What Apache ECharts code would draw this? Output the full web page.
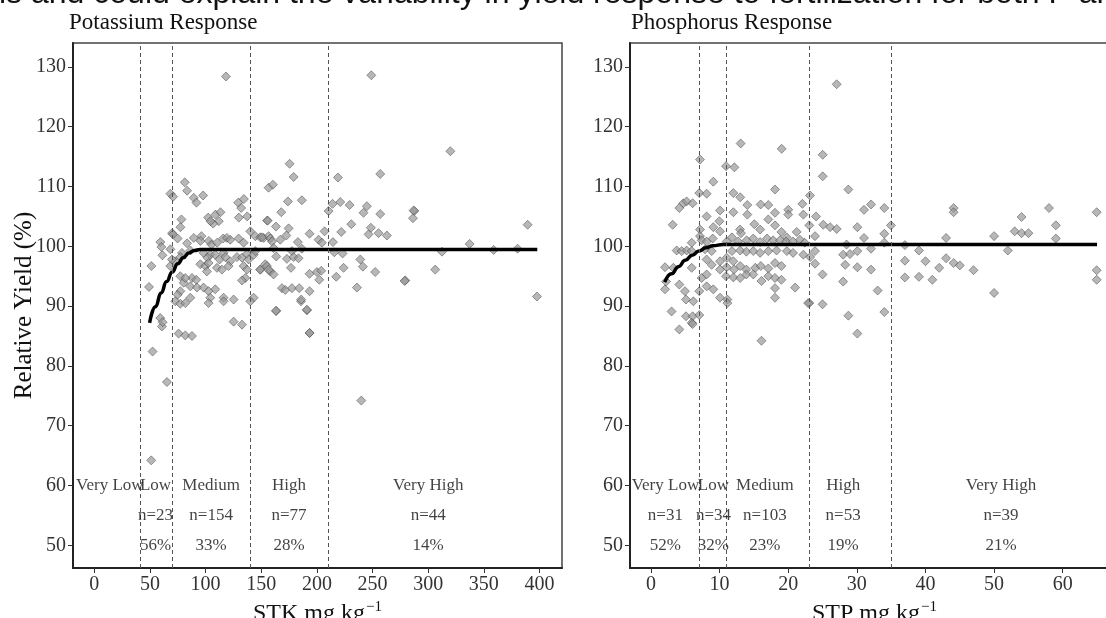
<!DOCTYPE html>
<html>
<head>
    <meta charset="utf-8">
    <title>Potassium / Phosphorus response</title>
    <script src="https://cdn.jsdelivr.net/npm/echarts@6/dist/echarts.min.js"></script>
    <style>
        html, body { margin: 0; padding: 0; background: #fff; }
    </style>
</head>
<body>
    <div id="main" style="width: 1106px;height:618px;"></div>

    <script type="text/javascript">
        // relative yield vs soil test K (STK)
        var kPoints = [
            [81.3,110.7],[83.4,109.3],[68.4,108.8],[70.8,108.3],[89.4,108.1],[97.8,108.5],[91.8,107.3],
            [129.3,107.3],[134.4,107.9],[132.0,106.4],[129.9,104.8],[137.4,105.0],[155.4,104.3],
            [102.3,104.8],[108.9,105.3],[113.4,105.7],[111.9,104.2],[106.8,103.8],[104.4,104.2],[78.3,104.5],[77.4,103.2],
            [69.9,102.2],[70.8,102.0],[59.4,100.7],[60.3,99.9],[61.2,98.5],[51.3,96.7],[49.2,93.2],
            [68.4,99.5],[74.9,101.3],[83.4,100.5],[86.4,99.3],[78.8,98.9],[77.4,98.2],[72.8,97.5],[68.3,96.7],[69.8,97.8],
            [89.4,101.4],[96.3,101.7],[95.4,100.9],[102.9,100.9],[105.3,100.3],[110.4,100.6],[115.8,101.3],[119.2,101.4],
            [122.2,101.1],[129.7,101.3],[134.2,100.6],[140.2,102.5],[144.7,101.7],[149.1,101.5],[152.2,101.4],[156.6,101.7],
            [98.2,98.9],[104.2,98.6],[101.8,98.1],[108.7,98.6],[116.2,98.9],[112.6,97.8],[117.7,98.2],[122.2,97.5],
            [128.2,98.2],[132.7,98.1],[137.2,98.7],[143.2,98.6],[138.7,97.8],[144.7,99.2],
            [95.3,97.0],[99.7,96.7],[101.2,95.8],[102.7,97.2],[110.2,96.4],[114.7,96.1],[120.7,96.7],[134.2,96.7],
            [137.2,96.1],[135.7,94.7],[132.7,94.3],[149.2,96.1],[153.6,97.0],[158.1,95.8],
            [87.8,94.7],[91.6,94.4],[80.3,93.9],[77.3,95.0],[81.8,94.7],[86.3,93.3],[92.3,93.1],[98.2,93.1],[102.7,92.5],
            [108.7,92.8],[104.2,91.4],[77.3,92.5],[74.9,91.9],[72.8,90.8],[77.3,90.4],[81.8,90.5],[86.3,91.4],[116.2,91.4],
            [125.2,91.1],[143.2,91.4],
            [59.3,88.0],[60.8,86.6],[125.2,87.4],[132.7,86.9],[75.8,85.4],[81.8,85.1],[87.8,85.0],
            [61.4,87.3],[52.4,82.4],[65.3,77.3],[51.2,64.2],[163.5,89.2],[102.7,90.5],[116.2,90.8],[140.2,90.8],
            [185.7,90.8],[191.1,89.3],[193.5,85.5],[239.9,74.2],[118.3,128.4],
            [175.5,113.8],[179.1,111.6],[156.6,109.8],[160.5,110.3],[218.9,111.5],[256.9,112.1],[174.0,107.5],[186.5,107.7],
            [168.0,105.7],[155.7,104.3],[163.2,103.3],[174.6,103.0],[167.1,101.1],[172.5,101.8],[150.6,101.5],[158.1,101.3],
            [159.6,100.8],[182.9,100.7],[193.4,102.1],[201.5,101.1],[204.5,100.6],[206.9,102.5],[210.5,105.9],[214.1,107.1],
            [221.0,107.4],[229.4,106.9],[241.9,105.6],[244.9,106.7],[256.9,105.4],[287.5,105.9],[286.3,104.7],[230.9,103.7],
            [248.5,103.1],[221.9,102.4],[246.4,102.0],[255.4,102.2],[262.9,101.8],[214.4,100.7],[161.1,99.7],[163.5,98.3],
            [177.6,99.2],[173.1,97.9],[179.1,98.2],[183.5,98.0],[186.5,99.6],[215.6,99.0],[223.1,98.8],[239.0,97.8],
            [241.3,96.6],[149.1,96.1],[155.1,96.7],[156.6,96.1],[161.1,95.3],[176.7,96.4],[193.4,95.4],[200.0,95.7],
            [203.9,95.9],[202.1,94.4],[224.0,96.4],[217.4,94.9],[252.4,95.7],[279.4,94.3],[306.3,96.1],[168.6,93.0],
            [171.6,92.7],[177.6,93.0],[184.1,93.0],[193.4,92.5],[236.0,93.1],[185.9,91.1],[163.2,89.2],[191.0,89.4],[193.4,85.5],
            [248.9,128.6],[319.9,115.9],[286.9,106.0],[337.2,100.4],[358.8,99.4],[380.3,99.6],[389.3,103.6],[397.7,91.6],
            [312.4,99.1],[278.8,94.2]
        ];

        // relative yield vs soil test P (STP)
        var pPoints = [
            [7.14,114.5],[10.93,113.4],[12.15,113.2],[9.08,110.8],[18.07,109.5],[25.02,115.3],[25.02,111.7],[7.04,108.9],
            [8.11,108.8],[12.0,108.9],[13.0,108.2],[4.71,107.2],[5.2,107.5],[6.07,107.2],[4.13,106.4],[10.06,106.0],
            [12.0,105.7],[14.04,106.9],[14.04,105.3],[15.98,107.0],[17.1,106.9],[18.07,105.6],[20.0,106.1],[20.0,105.3],
            [22.06,107.1],[23.17,108.5],[22.2,105.3],[24.05,105.0],[25.1,103.6],[26.1,103.2],[3.16,103.6],[8.11,105.0],
            [7.14,102.8],[7.14,101.7],[9.96,104.2],[10.06,102.5],[9.08,103.2],[12.97,102.8],[13.12,102.2],[15.06,103.7],
            [15.9,102.8],[17.1,104.5],[18.07,103.5],[19.0,102.4],[19.77,101.5],[21.23,102.4],[23.07,103.5],[23.9,101.7],
            [5.93,100.6],[7.38,101.0],[8.11,100.8],[8.99,101.3],[11.03,100.8],[11.8,101.5],[12.7,100.8],[13.94,101.0],
            [14.9,101.3],[15.9,100.7],[16.9,101.3],[17.8,101.0],[18.8,101.0],[19.7,100.8],[20.7,100.8],[21.7,101.1],[22.4,100.6],
            [3.74,99.3],[4.47,99.2],[5.2,99.3],[5.93,99.2],[7.87,99.5],[8.84,99.2],[11.8,99.2],[13.0,99.3],[13.9,99.1],
            [14.9,99.2],[15.9,98.9],[17.1,99.2],[18.3,99.3],[19.8,99.2],[20.7,98.9],[22.2,98.6],[23.2,98.2],[23.9,99.2],
            [2.04,96.5],[3.26,96.4],[5.93,96.4],[8.11,97.8],[8.84,96.9],[10.06,97.5],[11.03,98.1],[12.0,97.5],[10.06,96.1],
            [11.03,96.5],[12.1,96.1],[13.0,96.7],[13.9,96.1],[15.2,96.4],[16.0,96.7],[17.1,96.3],[18.07,97.2],[19.0,96.7],
            [10.93,95.0],[12.0,94.8],[13.0,94.7],[13.9,95.3],[14.9,95.3],[16.1,94.2],[17.1,95.0],[18.07,94.7],[23.9,97.1],[25.0,95.3],
            [2.04,92.8],[4.13,93.6],[4.95,92.5],[7.04,92.5],[8.11,93.3],[9.08,92.8],[7.38,94.7],[8.11,95.3],[5.1,91.1],
            [6.17,90.8],[10.06,91.4],[11.13,91.1],[11.13,90.5],[18.07,93.0],[18.07,91.4],[19.0,94.4],[21.0,93.1],[23.07,90.5],[25.0,90.3],
            [3.0,89.1],[5.1,88.3],[6.07,88.3],[7.04,88.5],[5.93,87.2],[4.13,86.1],[16.1,84.2],
            [27.06,127.1],[19.04,116.3],[13.07,117.2],[28.76,109.5],[2.2,94.1],[6.07,87.0],[28.76,88.4],[22.9,90.5],[30.07,85.4],[34.0,89.0],
            [27.06,102.9],[28.5,100.3],[28.0,98.6],[28.3,96.9],[28.0,94.1],
            [31.04,106.1],[32.06,107.0],[34.0,106.4],[30.07,103.2],[31.04,101.4],[32.06,99.6],[34.0,102.1],[34.97,103.5],
            [34.0,100.6],[29.0,98.7],[30.07,99.2],[30.07,96.5],[32.06,96.1],[33.03,92.6],[37.0,100.2],[39.05,99.3],[37.0,97.6],
            [40.0,97.5],[39.05,94.9],[37.0,94.8],[41.0,94.4],[43.0,101.4],[43.0,98.0],[42.0,96.4],[44.1,97.2],[45.0,96.8],
            [44.1,106.4],[44.1,105.7],[47.0,96.0],[50.0,101.7],[50.0,92.2],[52.0,99.3],[53.0,102.5],[54.0,104.9],[54.0,102.2],
            [55.0,102.2],[58.0,106.4],[59.0,103.5],[59.0,101.3],[64.95,105.7],[64.95,96.0],[64.95,94.4]
        ];

        // fitted response curves
        var kFit = [[49.7,87.2],[55,89.9],[60,92.2],[65,94.1],[70,95.7],[75,97.1],[80,98.1],[85,98.9],[90,99.3],[95,99.45],[398,99.45]];
        var pFit = [[2,94.0],[3,95.4],[4,96.6],[5,97.65],[6,98.5],[7,99.2],[8,99.75],[9,100.1],[10.5,100.3],[65,100.3]];

        // class boundaries (dashed lines)
        var kBreaks = [41, 70, 140, 210];
        var pBreaks = [7, 11, 23, 35];

        // class annotations
        var classNames = ['Very Low', 'Low', 'Medium', 'High', 'Very High'];
        var kClassX = [14, 55, 105, 175, 300];
        var kCounts = ['', 'n=23', 'n=154', 'n=77', 'n=44'];
        var kShares = ['', '56%', '33%', '28%', '14%'];
        var pClassX = [2.1, 9.1, 16.6, 28, 51];
        var pCounts = ['n=31', 'n=34', 'n=103', 'n=53', 'n=39'];
        var pShares = ['52%', '32%', '23%', '19%', '21%'];
        var rowY = [60, 55, 50];

        // tick labels
        var yTicks = [50, 60, 70, 80, 90, 100, 110, 120, 130];
        var kTicks = [0, 50, 100, 150, 200, 250, 300, 350, 400];
        var pTicks = [0, 10, 20, 30, 40, 50, 60];

        var serif = '"Liberation Serif", "Times New Roman", serif';
        var dom = document.getElementById('main');
        var myChart = echarts.init(dom, null, { renderer: 'canvas' });

        function annotationData(xs, counts, shares) {
            var rows = [classNames, counts, shares];
            var out = [];
            for (var r = 0; r < rows.length; r++) {
                for (var i = 0; i < xs.length; i++) {
                    if (rows[r][i]) out.push([xs[i], rowY[r], rows[r][i]]);
                }
            }
            return out;
        }

        function xAxisOf(gridIndex, min, max, ticks, name) {
            return {
                type: 'value', gridIndex: gridIndex, min: min, max: max,
                splitLine: { show: false },
                axisLine: { show: true, onZero: false, lineStyle: { color: '#222', width: 2 } },
                axisTick: { show: true, length: 5, customValues: ticks, lineStyle: { color: '#333', width: 1 } },
                axisLabel: { customValues: ticks, margin: 7, fontFamily: serif, fontSize: 20, color: '#333' },
                name: name, nameLocation: 'middle', nameGap: 26,
                nameTextStyle: {
                    fontFamily: serif, fontSize: 24, color: '#111',
                    rich: { sup: { fontFamily: serif, fontSize: 15, color: '#111', verticalAlign: 'top', padding: [0, 0, 12, 1] } }
                }
            };
        }

        function yAxisOf(gridIndex, name) {
            return {
                type: 'value', gridIndex: gridIndex, min: 46.2, max: 134,
                splitLine: { show: false },
                axisLine: { show: true, onZero: false, lineStyle: { color: '#222', width: 2 } },
                axisTick: { show: true, length: 5, customValues: yTicks, lineStyle: { color: '#333', width: 1 } },
                axisLabel: { customValues: yTicks, margin: 7, fontFamily: serif, fontSize: 20, color: '#333' },
                name: name, nameLocation: 'middle', nameGap: 36, nameRotate: 90, nameMoveOverlap: false,
                nameTextStyle: { fontFamily: serif, fontSize: 25, color: '#111' }
            };
        }

        function pointsSeries(idx, data, breaks) {
            return {
                type: 'scatter', xAxisIndex: idx, yAxisIndex: idx, data: data,
                symbol: 'diamond', symbolSize: 9,
                itemStyle: { color: 'rgba(150,150,150,0.85)', borderColor: 'rgba(60,60,60,0.85)', borderWidth: 0.7 },
                markLine: {
                    silent: true, symbol: 'none', animation: false,
                    label: { show: false },
                    lineStyle: { color: '#555', type: [4, 3], width: 1 },
                    data: breaks.map(function (v) { return { xAxis: v }; })
                },
                z: 2
            };
        }

        function fitSeries(idx, data) {
            return {
                type: 'line', xAxisIndex: idx, yAxisIndex: idx, data: data,
                showSymbol: false, symbol: 'none', smooth: true, smoothMonotone: 'x',
                lineStyle: { color: '#000', width: 3.5 }, z: 4
            };
        }

        function labelSeries(idx, data) {
            return {
                type: 'scatter', xAxisIndex: idx, yAxisIndex: idx, data: data,
                symbolSize: 1, itemStyle: { color: 'transparent' },
                label: {
                    show: true, position: 'inside', color: '#111',
                    fontFamily: serif, fontSize: 17,
                    formatter: function (p) { return p.data[2]; }
                },
                z: 5
            };
        }

        var option = {
            animation: false,
            backgroundColor: '#fff',
            title: [
                { text: 'Potassium Response', left: 64, top: 6,
                  textStyle: { fontFamily: serif, fontWeight: 'normal', fontSize: 23, color: '#111' } },
                { text: 'Phosphorus Response', left: 626, top: 6,
                  textStyle: { fontFamily: serif, fontWeight: 'normal', fontSize: 23, color: '#111' } }
            ],
            graphic: [{
                type: 'text', left: -1, top: -22, silent: true,
                style: {
                    text: 'ls and could explain the variability in yield response to fertilization for both P and K',
                    font: '32px "Liberation Sans", Arial, sans-serif', fill: '#111'
                }
            }],
            grid: [
                { left: 73, top: 43, width: 489, height: 525, show: true, borderColor: '#444', borderWidth: 1.5, outerBoundsMode: 'none' },
                { left: 630, top: 43, width: 489, height: 525, show: true, borderColor: '#444', borderWidth: 1.5, outerBoundsMode: 'none' }
            ],
            xAxis: [
                xAxisOf(0, -19.1, 420.2, kTicks, 'STK mg kg{sup|−1}'),
                xAxisOf(1, -3.06, 68.2, pTicks, 'STP mg kg{sup|−1}')
            ],
            yAxis: [
                yAxisOf(0, 'Relative Yield (%)'),
                yAxisOf(1, '')
            ],
            series: [
                pointsSeries(0, kPoints, kBreaks),
                fitSeries(0, kFit),
                labelSeries(0, annotationData(kClassX, kCounts, kShares)),
                pointsSeries(1, pPoints, pBreaks),
                fitSeries(1, pFit),
                labelSeries(1, annotationData(pClassX, pCounts, pShares))
            ]
        };

        myChart.setOption(option);
    </script>
</body>
</html>
